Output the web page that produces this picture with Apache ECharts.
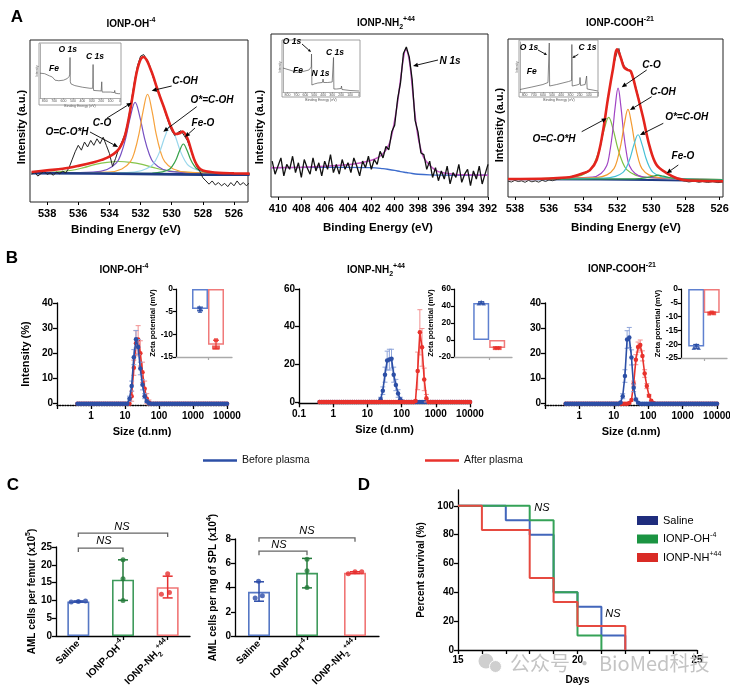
<!DOCTYPE html>
<html><head><meta charset="utf-8">
<script src="https://cdn.jsdelivr.net/npm/echarts@6/dist/echarts.min.js"></script>
<style>html,body{margin:0;padding:0;background:#fff}#c{width:730px;height:693px}</style>
</head><body><div id="c"></div>
<script>
const F = "'Liberation Sans', Arial, Helvetica, sans-serif";

// ---------------- Panel A : XPS O1s / N1s ----------------
const aTicksO = [526,528,530,532,534,536,538];
const aTicksN = [392,394,396,398,400,402,404,406,408,410];
const surveyTicks = [0,100,200,300,400,500,600,700,800];

const a1Raw = [[539,17],[538.8,18.5],[538.6,16],[538.4,17.5],[538.2,19],[538,17],[537.8,18],[537.6,16.5],[537.4,18.5],[537.2,17.5],[537,19],[536.8,18],[536.6,21],[536.4,26],[536.2,31],[536,35],[535.8,32],[535.6,37],[535.4,34],[535.2,38],[535,35],[534.8,39],[534.6,36],[534.4,40],[534.2,35],[534,30],[533.8,22],[533.6,27],[533.4,33],[533.2,37],[533,42],[532.8,50],[532.6,62],[532.4,74],[532.2,84],[532,90],[531.8,91],[531.6,88],[531.4,84],[531.2,77],[531,72],[530.8,67],[530.6,61],[530.4,55],[530.2,49],[530,44],[529.8,41],[529.6,43],[529.4,44],[529.2,41],[529,38],[528.8,33],[528.6,27],[528.4,22],[528.2,19],[528,15],[527.8,13],[527.6,11],[527.4,13],[527.2,10.5],[527,12],[526.8,10],[526.6,11.5],[526.4,9.5],[526.2,12],[526,10],[525.8,13],[525.6,10.5],[525.4,12],[525.2,10],[525,12]];
const a1Env = [[539,18.5],[538,19.5],[537,20.5],[536,22.3],[535,24.5],[534.5,26],[534,28],[533.5,31.5],[533.25,35],[533,41],[532.75,52],[532.5,66],[532.25,80],[532,88],[531.8,89.5],[531.6,87.5],[531.4,83],[531.2,78],[531,72],[530.75,65],[530.5,58.5],[530.25,51.5],[530,45.5],[529.75,42],[529.5,42.5],[529.3,43.5],[529,39.5],[528.75,32],[528.5,25],[528.25,21],[528,19.5],[527.5,18.5],[527,18],[526,17.7],[525,17.5]];
const a1Bg = [[539,17.8],[535,17.6],[531,17.2],[528,16.9],[525,16.8]];
const a1OCOstarH = [[539,17.7],[537.5,18.4],[536.4,19.6],[535.65,21.2],[534.9,23.2],[534.15,24.5],[533.4,25],[532.65,24.5],[531.9,23.2],[531.15,21.2],[530.4,19.6],[529.3,18.4],[527.5,17.8],[525,17.5]];
const a1CO = [[539,17.6],[535.05,18.4],[534.15,20.1],[533.55,24.1],[533.25,29.8],[532.95,39.5],[532.65,52.7],[532.35,61.5],[532.05,52.7],[531.75,39.5],[531.45,29.8],[531.15,24.1],[530.55,20.1],[529.65,18.4],[525,17.4]];
const a1COH = [[539,17.6],[534.05,18.5],[533.2,20.4],[532.65,24.9],[532.38,31.2],[532.1,42],[531.825,56.7],[531.55,66.5],[531.275,56.7],[531,42],[530.72,31.2],[530.45,24.9],[529.9,20.4],[529.05,18.5],[525,17.4]];
const a1OstarCOH = [[539,17.6],[532.9,18.1],[531.96,19.3],[531.34,22],[531.03,25.8],[530.72,32.3],[530.41,41.1],[530.1,47],[529.79,41.1],[529.48,32.3],[529.17,25.8],[528.86,22],[528.24,19.3],[527.3,18.1],[525,17.4]];
const a1FeO = [[539,17.6],[531.25,17.9],[530.6,18.6],[530.15,20.2],[529.93,22.6],[529.7,26.6],[529.475,32.1],[529.25,35.8],[529.025,32.1],[528.8,26.6],[528.57,22.6],[528.35,20.2],[527.9,18.6],[527.25,17.9],[525,17.4]];
const a1Survey = [[850,46],[800,45],[750,41],[720,39],[710,36],[690,33],[650,32],[600,33],[560,36],[540,40],[534,44],[531,75],[528,30],[520,26],[480,23],[400,20],[320,18],[290,18],[286,62],[283,20],[280,14],[260,13],[200,13],[194,30],[190,11],[150,11],[100,11],[60,10],[56,14],[52,9],[20,8],[0,8]];

const a2Raw = [[410.5,22],[410.25,14],[410,19],[409.75,24],[409.5,13],[409.25,20],[409,17],[408.75,25],[408.5,15],[408.25,21],[408,12],[407.75,23],[407.5,18],[407.25,14],[407,24],[406.75,16],[406.5,21],[406.25,13],[406,22],[405.75,17],[405.5,26],[405.25,15],[405,20],[404.75,14],[404.5,23],[404.25,17],[404,21],[403.75,15],[403.5,24],[403.25,19],[403,13],[402.75,22],[402.5,18],[402.25,25],[402,17],[401.75,23],[401.5,20],[401.25,28],[401,24],[400.75,31],[400.5,29],[400.25,40],[400,44],[399.75,60],[399.5,70],[399.25,88],[399,92],[398.75,86],[398.5,72],[398.25,47],[398,40],[397.75,27],[397.5,26],[397.25,17],[397,22],[396.75,12],[396.5,18],[396.25,10],[396,16],[395.75,11],[395.5,19],[395.25,8],[395,15],[394.75,12],[394.5,20],[394.25,9],[394,14],[393.75,17],[393.5,7],[393.25,16],[393,11],[392.75,19],[392.5,8],[392.25,14],[392,20]];
const a2Env = [[410.6,18],[408,18.3],[406,18.8],[404,19.8],[403,20.8],[402,22.5],[401.5,24],[401,26.5],[400.5,32],[400.25,38],[400,47],[399.75,58],[399.5,72],[399.25,85],[399.05,90.5],[398.75,84],[398.5,68],[398.25,50],[398,37],[397.75,29],[397.5,24],[397,19.5],[396.5,16.5],[396,15],[395,14],[394,13.6],[392,13.4]];
const a2Bg = [[410.6,18],[404,18.2],[402,18],[401,17.4],[400.5,16.9],[400,16.3],[399.5,15.6],[399,15],[398.5,14.4],[398,14],[397,13.6],[396,13.4],[392,13.3]];
const a2Survey = [[850,48],[740,42],[700,39],[650,40],[560,44],[540,46],[534,50],[531,76],[527,14],[500,16],[460,18],[410,19],[402,26],[399,27],[395,19],[350,19],[300,20],[288,22],[285,69],[281,6],[250,6],[200,7],[196,12],[190,5],[100,3],[0,2]];

const a3Raw = [[538.4,10],[538.2,9.5],[538,10.5],[537.8,9.8],[537.6,10.2],[537.4,9.3],[537.2,10.5],[537,9.6],[536.8,10.2],[536.6,9.4],[536.4,10.6],[536.2,9.8],[536,10.8],[535.8,10.3],[535.5,11.2],[535.2,11.8],[535,12.3],[534.8,12.6],[534.6,13.2],[534.4,13.6],[534.2,14.3],[534,15.2],[533.8,16],[533.6,17.3],[533.4,19.5],[533.2,23.5],[533,31],[532.8,43],[532.6,58],[532.4,72],[532.2,84],[532,92],[531.9,94],[531.8,89],[531.6,83],[531.4,81],[531.2,79],[531,73],[530.8,65],[530.6,56],[530.4,46],[530.2,36],[530,28],[529.8,22],[529.6,19],[529.4,17],[529.2,15.5],[529,14.5],[528.8,13],[528.6,12],[528.4,11],[528.2,10.5],[528,10],[527.8,9.5],[527.5,10],[527.2,9.3],[527,9.8],[526.7,9.2],[526.4,9.7],[526.1,9.1],[525.8,9.5]];
const a3Env = [[538.4,11.4],[536,11.7],[535,12.3],[534.6,13],[534,15],[533.6,17],[533.2,23.6],[532.85,40.6],[532.55,61.8],[532.25,80.9],[532,93.5],[531.8,88.5],[531.6,82],[531.4,80.5],[531.2,79.5],[530.9,68.2],[530.5,51.1],[530.1,32],[529.7,20.4],[529.1,15.1],[528.5,11.9],[527.8,10.4],[525.8,10]];
const a3Bg = [[538.4,11.3],[533,11.1],[530,10.8],[528,10.5],[525.8,10.4]];
const a3OCOstarH = [[538.4,11.4],[534.9,12.2],[534.1,13.7],[533.56,17.3],[533.3,22.3],[533.03,30.9],[532.765,42.6],[532.5,50.4],[532.235,42.6],[531.97,30.9],[531.7,22.3],[531.44,17.3],[530.9,13.7],[530.1,12.2],[525.8,11]];
const a3CO = [[538.4,11.4],[533.45,12.6],[532.95,14.9],[532.61,20],[532.45,27.5],[532.28,40.2],[532.115,57.4],[531.95,68.9],[531.785,57.4],[531.62,40.2],[531.45,27.5],[531.29,20],[530.95,14.9],[530.45,12.6],[525.8,11]];
const a3COH = [[538.4,11.4],[533.22,12.3],[532.6,14],[532.19,18],[531.99,23.7],[531.78,33.4],[531.575,46.6],[531.37,55.4],[531.165,46.6],[530.96,33.4],[530.75,23.7],[530.55,18],[530.14,14],[529.52,12.3],[525.8,11]];
const a3OstarCOH = [[538.4,11.4],[532.78,12],[532.1,13.1],[531.66,15.6],[531.44,19.2],[531.22,25.4],[531,33.8],[530.78,39.4],[530.56,33.8],[530.34,25.4],[530.12,19.2],[529.9,15.6],[529.46,13.1],[528.78,12],[525.8,11]];
const a3FeO = [[538.4,11.3],[531,11.5],[530.3,12.2],[529.9,13.2],[529.6,13.8],[529.3,13.2],[528.9,12.2],[528.2,11.3],[525.8,10.8]];
const a3Survey = [[850,5],[720,10],[600,15],[545,19],[534,22],[531,98],[527,12],[450,15],[320,21],[288,23],[285,95],[281,12],[230,14],[200,16],[196,29],[190,13],[140,15],[128,18],[124,32],[118,6],[100,4],[0,2]];

// ---------------- Panel B : DLS ----------------
const sizes = [
 0.4,0.4632,0.5365,0.6213,0.7195,0.8332,0.9649,1.117,1.294,1.499,
 1.736,2.01,2.328,2.696,3.122,3.615,4.187,4.849,5.615,6.503,
 7.531,8.721,10.1,11.7,13.54,15.69,18.17,21.04,24.36,28.21,
 32.67,37.84,43.82,50.75,58.77,68.06,78.82,91.28,105.7,122.4,
 141.8,164.2,190.1,220.2,255,295.3,342,396.1,458.7,531.2,
 615.1,712.4,825,955.4,1106,1281,1484,1718,1990,2305,
 2669,3091,3580,4145,4801,5560,6439,7456,8635,10000];
const b1Before = [
 0,0,0,0,0,0,0,0,0,0, 0,0,0,0,0,0,0,0,0,0,
 0,0,0,0,2,7,18.5,25.6,22.5,14, 7.5,3,1,0.2,0,0,0,0,0,0,
 0,0,0,0,0,0,0,0,0,0, 0,0,0,0,0,0,0,0,0,0, 0,0,0,0,0,0,0,0,0,0];
const b1BeforeSD = [
 0,0,0,0,0,0,0,0,0,0, 0,0,0,0,0,0,0,0,0,0,
 0,0,0,0,1,2,3,3.5,3,2.5, 2,1,0.5,0,0,0,0,0,0,0,
 0,0,0,0,0,0,0,0,0,0, 0,0,0,0,0,0,0,0,0,0, 0,0,0,0,0,0,0,0,0,0];
const b1After = [
 0,0,0,0,0,0,0,0,0,0, 0,0,0,0,0,0,0,0,0,0,
 0,0,0,0,0,3,14.3,24,25.5,20, 12.5,6,2,0.5,0,0,0,0,0,0,
 0,0,0,0,0,0,0,0,0,0, 0,0,0,0,0,0,0,0,0,0, 0,0,0,0,0,0,0,0,0,0];
const b1AfterSD = [
 0,0,0,0,0,0,0,0,0,0, 0,0,0,0,0,0,0,0,0,0,
 0,0,0,0,0,2,3,5,5.5,5, 4,3,2,1,0,0,0,0,0,0,
 0,0,0,0,0,0,0,0,0,0, 0,0,0,0,0,0,0,0,0,0, 0,0,0,0,0,0,0,0,0,0];
const b2Before = [
 0,0,0,0,0,0,0,0,0,0, 0,0,0,0,0,0,0,0,0,0,
 0,0,0,0,0,0,0,0,1.5,6, 14.5,22,22.5,23,14.5,9,4.5,1.5,0.3,0,
 0,0,0,0,0,0,0,0,0,0, 0,0,0,0,0,0,0,0,0,0, 0,0,0,0,0,0,0,0,0,0];
const b2BeforeSD = [
 0,0,0,0,0,0,0,0,0,0, 0,0,0,0,0,0,0,0,0,0,
 0,0,0,0,0,0,0,0,1,2, 4,5,5.5,5,4,3,2,1,0,0,
 0,0,0,0,0,0,0,0,0,0, 0,0,0,0,0,0,0,0,0,0, 0,0,0,0,0,0,0,0,0,0];
const b2After = [
 0,0,0,0,0,0,0,0,0,0, 0,0,0,0,0,0,0,0,0,0,
 0,0,0,0,0,0,0,0,0,0, 0,0,0,0,0,0,0,0,0,0,
 0,0,0,0,0.5,16.5,37,29,12,2, 0,0,0,0,0,0,0,0,0,0, 0,0,0,0,0,0,0,0,0,0];
const b2AfterSD = [
 0,0,0,0,0,0,0,0,0,0, 0,0,0,0,0,0,0,0,0,0,
 0,0,0,0,0,0,0,0,0,0, 0,0,0,0,0,0,0,0,0,0,
 0,0,0,0,0,10,12,10,6,2, 0,0,0,0,0,0,0,0,0,0, 0,0,0,0,0,0,0,0,0,0];
const b3Before = [
 0,0,0,0,0,0,0,0,0,0, 0,0,0,0,0,0,0,0,0,0,
 0,0,0,0,0,0.5,3,11,25.5,26.3, 18.4,6.3,1.7,0.4,0,0,0,0,0,0,
 0,0,0,0,0,0,0,0,0,0, 0,0,0,0,0,0,0,0,0,0, 0,0,0,0,0,0,0,0,0,0];
const b3BeforeSD = [
 0,0,0,0,0,0,0,0,0,0, 0,0,0,0,0,0,0,0,0,0,
 0,0,0,0,0,0,1,2.5,3.5,4, 3,1.5,0.5,0,0,0,0,0,0,0,
 0,0,0,0,0,0,0,0,0,0, 0,0,0,0,0,0,0,0,0,0, 0,0,0,0,0,0,0,0,0,0];
const b3After = [
 0,0,0,0,0,0,0,0,0,0, 0,0,0,0,0,0,0,0,0,0,
 0,0,0,0,0,0,0,0,0,0.3, 1.5,8,17.5,22.5,23.3,19,12,7,3.2,1.2,
 0.3,0,0,0,0,0,0,0,0,0, 0,0,0,0,0,0,0,0,0,0, 0,0,0,0,0,0,0,0,0,0];
const b3AfterSD = [
 0,0,0,0,0,0,0,0,0,0, 0,0,0,0,0,0,0,0,0,0,
 0,0,0,0,0,0,0,0,0,0, 0,1,2,2,2,2,1.5,1,0.5,0,
 0,0,0,0,0,0,0,0,0,0, 0,0,0,0,0,0,0,0,0,0, 0,0,0,0,0,0,0,0,0,0];

// zeta potential insets: [x slot, value]
const z1Bars = [[1.5,-4.4],[2.5,-12.3]];
const z1BluePts = [[1.45,-4.0],[1.5,-4.8],[1.55,-4.3]];
const z1RedPts = [[2.5,-11.3],[2.38,-12.9],[2.62,-12.9]];
const z1Err = [[1.5,-4.8,-4.0],[2.5,-13.2,-11.3]];
const z2Bars = [[1.7,43.5],[2.7,-9.5]];
const z2BluePts = [[1.55,43.2],[1.7,44.8],[1.85,43.2]];
const z2RedPts = [[2.55,-9.5],[2.7,-9.5],[2.85,-9.5]];
const z2Err = [[1.7,42.5,45],[2.7,-9.8,-9.2]];
const z3Bars = [[0.95,-20.8],[1.92,-8.7]];
const z3BluePts = [[0.8,-21.3],[0.95,-20.3],[1.1,-21.3]];
const z3RedPts = [[1.77,-8.9],[1.92,-8.5],[2.07,-8.8]];
const z3Err = [[0.95,-21.5,-20.1],[1.92,-9.0,-8.4]];

// ---------------- Panel C ----------------
const c1Means = [9.7, 15.8, 13.7];
const c1Err = [[9.55,9.85],[10.0,21.4],[10.7,16.8]];
const c1Pts = [[[0.84,9.55],[1.0,9.7],[1.16,9.8]], [[2.0,10.0],[2.0,16.1],[2.0,21.4]], [[2.86,11.7],[3.04,12.2],[3.0,17.5]]];
const c1NS = [[1,2,24.7],[1,3,28.9]];
const c2Means = [3.64, 5.21, 5.21];
const c2Err = [[2.87,4.47],[3.97,6.4],[5.16,5.3]];
const c2Pts = [[[0.92,3.14],[0.99,4.52],[1.07,3.31]], [[2.0,4.0],[2.0,5.38],[2.0,6.32]], [[2.86,5.13],[3.0,5.3],[3.14,5.3]]];
const c2NS = [[1,2,7.0],[1,3,8.1]];

// ---------------- Panel D ----------------
const dSaline = [[15,100],[17,90],[18,80],[19,40],[20,30],[21,10],[22,0]];
const dOH = [[15,100],[18,90],[19,40],[20,10],[21,0]];
const dNH = [[15,100],[16,83.3],[18,50],[19,33.3],[20,16.7],[22,0]];
const dYTicks = [0,20,40,60,80,100];

// =================== build option ===================
const grids=[], xAxis=[], yAxis=[], series=[], G=[];
function grid(box, xa, ya){ const i=grids.length; grids.push(Object.assign({outerBoundsMode:'none', containLabel:false}, box)); xa.gridIndex=i; ya.gridIndex=i; xAxis.push(xa); yAxis.push(ya); return i; }
function ln(gi, data, color, width, extra){ series.push(Object.assign({type:'line', xAxisIndex:gi, yAxisIndex:gi, data, symbol:'none', showSymbol:false, lineStyle:{color, width}, itemStyle:{color}, silent:true, z:3}, extra||{})); }
function errSeries(gi, data, color, cap, w, z){
  return {type:'custom', xAxisIndex:gi, yAxisIndex:gi, clip:false, silent:true, z:z||4, data,
    renderItem(p, api){ const a=api.coord([api.value(0),api.value(1)]), b=api.coord([api.value(0),api.value(2)]);
      const st={stroke:color, lineWidth:w};
      return {type:'group', children:[
        {type:'line', shape:{x1:a[0],y1:a[1],x2:b[0],y2:b[1]}, style:st},
        {type:'line', shape:{x1:a[0]-cap,y1:a[1],x2:a[0]+cap,y2:a[1]}, style:st},
        {type:'line', shape:{x1:b[0]-cap,y1:b[1],x2:b[0]+cap,y2:b[1]}, style:st}]}; }};
}
function bracketSeries(gi, data){
  return {type:'custom', xAxisIndex:gi, yAxisIndex:gi, clip:false, silent:true, z:5, data,
    renderItem(p, api){ const a=api.coord([api.value(0),api.value(2)]), b=api.coord([api.value(1),api.value(2)]);
      return {type:'polyline', shape:{points:[[a[0],a[1]+4],[a[0],a[1]],[b[0],b[1]],[b[0],b[1]+4]]}, style:{stroke:'#666', lineWidth:1.3, fill:null}}; }};
}
const blk = {color:'#000', width:1.3};
const lblB = (fs) => ({fontSize:fs, fontWeight:'bold', fontFamily:F, color:'#000'});
const richLbl = (fs) => ({b:{fontSize:fs, fontWeight:'bold', fontFamily:F, color:'#000', lineHeight:fs+5},
  sup:{fontSize:Math.round(fs*0.65), fontWeight:'bold', fontFamily:F, color:'#000', verticalAlign:'top'},
  sub:{fontSize:Math.round(fs*0.65), fontWeight:'bold', fontFamily:F, color:'#000', verticalAlign:'bottom'}});

// ---- A axes helpers
function aX(min,max,ticks){ return {type:'value', min, max, inverse:true, axisLine:{show:false, onZero:false}, axisTick:{show:true, length:3, customValues:ticks, lineStyle:{color:'#000'}}, axisLabel:Object.assign({customValues:ticks, margin:6}, lblB(11)), splitLine:{show:false}}; }
function aY(){ return {type:'value', min:0, max:100, show:false, splitLine:{show:false}}; }
function insX(){ return {type:'value', min:0, max:850, inverse:true, axisLine:{onZero:false, lineStyle:{color:'#777', width:0.6}}, axisTick:{length:1.5, customValues:surveyTicks, lineStyle:{color:'#777', width:0.5}}, axisLabel:{customValues:surveyTicks, fontSize:3.5, color:'#555', margin:1.5, fontFamily:F}, splitLine:{show:false}, name:'Binding Energy (eV)', nameLocation:'middle', nameGap:6, nameTextStyle:{fontSize:3.5, color:'#555', fontFamily:F}}; }
function insY(){ return {type:'value', min:0, max:100, axisLine:{show:true, onZero:false, lineStyle:{color:'#777', width:0.6}}, axisTick:{show:false}, axisLabel:{show:false}, splitLine:{show:false}, name:'Intensity', nameLocation:'middle', nameRotate:90, nameGap:1.5, nameTextStyle:{fontSize:3, color:'#555', fontFamily:F}}; }
const boxGrid = (l,t,w,h) => ({left:l, top:t, width:w, height:h, show:true, borderColor:'#222', borderWidth:1, backgroundColor:'rgba(0,0,0,0)'});

// A1
let gi = grid(boxGrid(30,40,218,162), aX(525.1,539.1,aTicksO), aY());
ln(gi, a1OCOstarH, '#86c54b', 1.2, {smooth:0.4});
ln(gi, a1CO, '#7650c2', 1.2, {smooth:0.4});
ln(gi, a1COH, '#f6a23c', 1.2, {smooth:0.4});
ln(gi, a1OstarCOH, '#9ad7ec', 1.2, {smooth:0.4});
ln(gi, a1FeO, '#36a24a', 1.2, {smooth:0.4});
ln(gi, a1Bg, '#1f3b85', 2.6, {z:3});
ln(gi, a1Raw, '#222', 1, {z:4});
ln(gi, a1Env, '#e4241d', 2.6, {smooth:0.35, z:5});
gi = grid({left:40, top:44, width:80, height:54}, insX(), insY());
ln(gi, a1Survey, '#555', 0.7);

// A2
gi = grid(boxGrid(271,34,217,163), aX(392,410.6,aTicksN), aY());
ln(gi, a2Bg, '#3d6ccc', 1.4, {smooth:0.4});
ln(gi, a2Env, '#c455c4', 1.5, {smooth:0.35});
ln(gi, a2Raw, '#111', 1.3, {z:4});
gi = grid({left:283, top:42, width:76, height:50}, insX(), insY());
ln(gi, a2Survey, '#555', 0.7);

// A3
gi = grid(boxGrid(508,39,215,158), aX(525.8,538.4,aTicksO), aY());
ln(gi, a3Bg, '#1f3b85', 2, {z:3});
ln(gi, a3OCOstarH, '#7cc043', 1.2, {smooth:0.4});
ln(gi, a3CO, '#a044c4', 1.2, {smooth:0.4});
ln(gi, a3COH, '#f39a2f', 1.2, {smooth:0.4});
ln(gi, a3OstarCOH, '#45c0d6', 1.2, {smooth:0.4});
ln(gi, a3FeO, '#2e9d48', 1.2, {smooth:0.4});
ln(gi, a3Raw, '#333', 1, {z:4});
ln(gi, a3Env, '#e4241d', 2.6, {smooth:0.35, z:5});
gi = grid({left:520, top:42, width:78, height:50}, insX(), insY());
ln(gi, a3Survey, '#555', 0.7);

// ---- B helpers
function dlsX(showTenth, dotted){ return {type:'log', logBase:10, min:0.1, max:10000,
  axisLine:{onZero:false, lineStyle:{color:'#000', width:1.3, type: dotted?'dotted':'solid'}},
  axisTick:{length:4, lineStyle:{color:'#000', width:1.3}},
  axisLabel:Object.assign({margin:6, formatter:v => v<0.5 ? (showTenth?'0.1':'') : String(Math.round(v))}, lblB(10)),
  minorTick:{show:false}, splitLine:{show:false},
  name:'Size (d.nm)', nameLocation:'middle', nameGap:21, nameTextStyle:lblB(11)}; }
function dlsY(min,max,ticks,name){ return {type:'value', min, max,
  axisLine:{show:true, onZero:false, lineStyle:blk}, axisTick:{show:true, length:4, customValues:ticks, lineStyle:blk},
  axisLabel:Object.assign({customValues:ticks, margin:4}, lblB(10)), splitLine:{show:false},
  name, nameLocation:'middle', nameRotate:90, nameGap:26, nameTextStyle:lblB(11)}; }
function zX(max, tick){ return {type:'value', min:0, max, axisLine:{onZero:false, lineStyle:{color:'#aaa', width:1.3}}, axisTick:{length:3, customValues:[tick], lineStyle:{color:'#aaa', width:1.2}}, axisLabel:{show:false}, splitLine:{show:false}}; }
function zY(min,max,interval,gap){ return {type:'value', min, max, interval, axisLine:{show:true, onZero:false, lineStyle:{color:'#000', width:1.2}}, axisTick:{length:3, lineStyle:{color:'#000', width:1.2}}, axisLabel:Object.assign({margin:3}, lblB(8.5)), splitLine:{show:false},
  name:'Zeta potential (mV)', nameLocation:'middle', nameRotate:90, nameGap:gap, nameTextStyle:lblB(7.5)}; }
const BLUE='#2c4fa6', RED='#e8322c', BLUE_E='#8fa5da', RED_E='#f29090';
function dls(gi, vals, sd, color, ecolor, name, z){
  series.push({type:'line', name, xAxisIndex:gi, yAxisIndex:gi, data:sizes.map((s,i)=>[s, vals[i]]), symbol:'circle', symbolSize:4.5, showSymbol:true, lineStyle:{color, width:1.6}, itemStyle:{color}, silent:true, z});
  const e=[]; sizes.forEach((s,i)=>{ if(sd[i]>0) e.push([s, vals[i]-sd[i], vals[i]+sd[i]]); });
  series.push(errSeries(gi, e, ecolor, 2.5, 1, z-1));
}
function zeta(gi, bars, bpts, rpts, errs){
  series.push({type:'bar', xAxisIndex:gi, yAxisIndex:gi, barWidth:16, silent:true, z:2,
    data:[{value:bars[0], itemStyle:{color:'rgba(255,255,255,0)', borderColor:'#5f80cf', borderWidth:1.5}},
          {value:bars[1], itemStyle:{color:'rgba(255,255,255,0)', borderColor:'#f07a7a', borderWidth:1.5}}]});
  series.push(errSeries(gi, [errs[0]], BLUE, 3, 1.2, 3));
  series.push(errSeries(gi, [errs[1]], RED, 3, 1.2, 3));
  series.push({type:'scatter', xAxisIndex:gi, yAxisIndex:gi, data:bpts, symbol:'triangle', symbolSize:4.5, itemStyle:{color:BLUE}, silent:true, z:4});
  series.push({type:'scatter', xAxisIndex:gi, yAxisIndex:gi, data:rpts, symbol:'rect', symbolSize:4, itemStyle:{color:RED}, silent:true, z:4});
}
// B1
gi = grid({left:57, top:303, width:170, height:102}, dlsX(false,true), dlsY(-0.5,40,[0,10,20,30,40],'Intensity (%)'));
dls(gi, b1After, b1AfterSD, RED, RED_E, 'After plasma', 4);
dls(gi, b1Before, b1BeforeSD, BLUE, BLUE_E, 'Before plasma', 6);
gi = grid({left:176, top:289, width:56, height:68}, zX(3.5,2), zY(-15,0,5,9));
zeta(gi, z1Bars, z1BluePts, z1RedPts, z1Err);
// B2
gi = grid({left:299, top:289, width:171, height:114.3}, dlsX(true,false), dlsY(-0.7,60,[0,20,40,60],''));
dls(gi, b2Before, b2BeforeSD, BLUE, BLUE_E, 'Before plasma', 4);
dls(gi, b2After, b2AfterSD, RED, RED_E, 'After plasma', 6);
gi = grid({left:454, top:289, width:58, height:68}, zX(3.625,2.2), zY(-20,60,20,7));
zeta(gi, z2Bars, z2BluePts, z2RedPts, z2Err);
// B3
gi = grid({left:545, top:303, width:172, height:102}, dlsX(false,true), dlsY(-0.5,40,[0,10,20,30,40],''));
dls(gi, b3After, b3AfterSD, RED, RED_E, 'After plasma', 4);
dls(gi, b3Before, b3BeforeSD, BLUE, BLUE_E, 'Before plasma', 6);
gi = grid({left:681, top:289, width:46, height:69}, zX(2.875,1.44), zY(-25,0,5,18));
zeta(gi, z3Bars, z3BluePts, z3RedPts, z3Err);

// ---- C
const cLabel = ['{b|Saline}', '{b|IONP-OH}{sup|-4}', '{b|IONP-NH}{sub|2}{sup|+44}'];
const cBorder = ['#5577c4','#3f9a5c','#f07575'];
const cDark = ['#2b4ba8','#237a3a','#e63030'];
function cX(){ return {type:'value', min:0.5, max:3.5, axisLine:{onZero:false, lineStyle:blk}, axisTick:{length:4, customValues:[1,2,3], lineStyle:blk},
  axisLabel:{customValues:[1,2,3], rotate:45, margin:6, formatter:v => cLabel[Math.round(v)-1], rich:richLbl(10)}, splitLine:{show:false}}; }
function cY(max, interval, name){ return {type:'value', min:0, max, interval, axisLine:{show:true, onZero:false, lineStyle:blk}, axisTick:{length:4, lineStyle:blk},
  axisLabel:Object.assign({margin:4}, lblB(10)), splitLine:{show:false}, name, nameLocation:'middle', nameRotate:90, nameGap:14.5,
  nameTextStyle:Object.assign({rich:richLbl(10)}, lblB(10))}; }
function cPanel(gi, means, errs, pts, ns){
  series.push({type:'bar', xAxisIndex:gi, yAxisIndex:gi, barWidth:22, silent:true, z:2,
    data:means.map((m,i)=>({value:[i+1,m], itemStyle:{color:'rgba(255,255,255,0)', borderColor:cBorder[i], borderWidth:1.6}}))});
  errs.forEach((e,i)=>series.push(errSeries(gi, [[i+1,e[0],e[1]]], cDark[i], 5, 1.5, 3)));
  pts.forEach((p,i)=>series.push({type:'scatter', xAxisIndex:gi, yAxisIndex:gi, data:p, symbol:'circle', symbolSize:5, itemStyle:{color:cDark[i]}, silent:true, z:4}));
  series.push(bracketSeries(gi, ns));
}
gi = grid({left:56, top:547, width:134, height:89}, cX(), cY(25,5,'{b|AML cells per femur (x10}{sup|5}{b|)}'));
cPanel(gi, c1Means, c1Err, c1Pts, c1NS);
gi = grid({left:235, top:539, width:144, height:97}, cX(), cY(8,2,'{b|AML cells per mg of SPL (x10}{sup|4}{b|)}'));
cPanel(gi, c2Means, c2Err, c2Pts, c2NS);

// ---- D
gi = grid({left:458, top:490, width:239, height:160},
  {type:'value', min:15, max:25, interval:1, axisLine:{onZero:false, lineStyle:blk}, axisTick:{length:4, lineStyle:blk},
   axisLabel:Object.assign({margin:5, formatter:v => (v===15||v===20||v===25)? String(v) : ''}, lblB(10)), splitLine:{show:false},
   name:'Days', nameLocation:'middle', nameGap:25, nameTextStyle:lblB(10)},
  {type:'value', min:0, max:111, axisLine:{show:true, onZero:false, lineStyle:blk}, axisTick:{length:4, customValues:dYTicks, lineStyle:blk},
   axisLabel:Object.assign({customValues:dYTicks, margin:4}, lblB(10)), splitLine:{show:false},
   name:'Percent survival (%)', nameLocation:'middle', nameRotate:90, nameGap:32, nameTextStyle:lblB(10)});
ln(gi, dSaline, '#4266bb', 2, {step:'end', name:'Saline', itemStyle:{color:'#1f2d7d'}});
ln(gi, dOH, '#35a257', 2, {step:'end', name:'IONP-OH-4', itemStyle:{color:'#1b9442'}});
ln(gi, dNH, '#e64a40', 2, {step:'end', name:'IONP-NH+44', itemStyle:{color:'#d92b25'}});

// =================== graphics (text) ===================
function T(x,y,text,o){ o=o||{}; const st={text, fill:o.color||'#000', font:o.font||('bold 10px '+F), align:o.align||'center', verticalAlign:'middle'}; if(o.rich) st.rich=o.rich; G.push({type:'text', x, y, rotation:o.rot||0, z:100, silent:true, style:st}); }
function R(fs){ return {b:{fontSize:fs, fontWeight:'bold', fontFamily:F, lineHeight:fs+5}, sup:{fontSize:Math.round(fs*0.65), fontWeight:'bold', fontFamily:F, verticalAlign:'top'}, sub:{fontSize:Math.round(fs*0.65), fontWeight:'bold', fontFamily:F, verticalAlign:'bottom'}}; }
function arrow(x1,y1,x2,y2,head){ head=head||5; const a=Math.atan2(y2-y1,x2-x1), bx=x2-head*Math.cos(a), by=y2-head*Math.sin(a), w=head*0.45, px=-Math.sin(a)*w, py=Math.cos(a)*w;
  G.push({type:'line', z:100, silent:true, shape:{x1,y1,x2:bx,y2:by}, style:{stroke:'#000', lineWidth:0.9}});
  G.push({type:'polygon', z:100, silent:true, shape:{points:[[x2,y2],[bx+px,by+py],[bx-px,by-py]]}, style:{fill:'#000'}}); }
const BI = 'italic bold 10px '+F, BI8 = 'italic bold 8.5px '+F;
T(17,17,'A',{font:'bold 17px '+F}); T(12,258,'B',{font:'bold 17px '+F}); T(13,485,'C',{font:'bold 17px '+F}); T(364,485,'D',{font:'bold 17px '+F});
T(131,24,'{b|IONP-OH}{sup|-4}',{rich:R(10)});
T(386,23,'{b|IONP-NH}{sub|2}{sup|+44}',{rich:R(10)});
T(620,23,'{b|IONP-COOH}{sup|-21}',{rich:R(10)});
[[126,230],[378,228],[626,228]].forEach(p=>T(p[0],p[1],'Binding Energy (eV)',{font:'bold 11.5px '+F}));
[[22,127],[260,127],[500,125]].forEach(p=>T(p[0],p[1],'Intensity (a.u.)',{font:'bold 11px '+F, rot:Math.PI/2}));
[[39,43,82,62],[282,40,78,57],[519,40,79,57]].forEach(r=>G.push({type:'rect', z:90, silent:true, shape:{x:r[0],y:r[1],width:r[2],height:r[3]}, style:{fill:null, stroke:'#888', lineWidth:0.8}}));
T(185,81,'C-OH',{font:BI}); arrow(171.7,86,151.7,90.7);
T(212,100,'O*=C-OH',{font:BI}); arrow(196.7,106.7,163.3,131.7);
T(203,123,'Fe-O',{font:BI}); arrow(195,128,185,137);
T(102,123,'C-O',{font:BI}); arrow(107,118,131.7,102.7);
T(67,132,'O=C-O*H',{font:BI}); arrow(90,132,118,147);
T(67.7,50,'O 1s',{font:BI8}); T(95,57,'C 1s',{font:BI8}); T(54,68.5,'Fe',{font:BI8});
T(450,61,'N 1s',{font:BI}); arrow(438,60,413,66);
T(292,42,'O 1s',{font:BI8}); arrow(302,44,311,52,3);
T(335,53,'C 1s',{font:BI8}); T(298,70.5,'Fe',{font:BI8}); T(320.5,73.5,'N 1s',{font:BI8});
T(651.5,65,'C-O',{font:BI}); arrow(646.7,70,621.7,87.3);
T(663,92.5,'C-OH',{font:BI}); arrow(651.7,96.7,630,110);
T(686.7,117.5,'O*=C-OH',{font:BI}); arrow(663.3,123.3,640,135);
T(554,139,'O=C-O*H',{font:BI}); arrow(581.7,131.7,606.7,118.3);
T(683,156.7,'Fe-O',{font:BI}); arrow(678.3,165,666.7,173.3);
T(529,48,'O 1s',{font:BI8}); arrow(538,50,547,55,3);
T(587.5,48,'C 1s',{font:BI8}); arrow(578.3,54.3,572.3,58,3);
T(531.7,72,'Fe',{font:BI8});
T(124,270,'{b|IONP-OH}{sup|-4}',{rich:R(10)});
T(376,270,'{b|IONP-NH}{sub|2}{sup|+44}',{rich:R(10)});
T(622,269,'{b|IONP-COOH}{sup|-21}',{rich:R(10)});
const NSF = 'italic 11px '+F;
T(104,541,'NS',{font:NSF}); T(122,527,'NS',{font:NSF});
T(279,545,'NS',{font:NSF}); T(307,531,'NS',{font:NSF});
T(542,508,'NS',{font:NSF}); T(613,614,'NS',{font:NSF});
G.push({type:'circle', z:100, silent:true, shape:{cx:486,cy:661,r:7.5}, style:{fill:'#cfcfcf'}});
G.push({type:'circle', z:100, silent:true, shape:{cx:495.5,cy:666.5,r:6}, style:{fill:'#cfcfcf', stroke:'#fff', lineWidth:1}});
T(510,663,'公众号 · BioMed科技',{font:"20px 'Noto Sans CJK SC', sans-serif", color:'rgba(190,190,190,0.9)', align:'left'});

const legendRich = {n:{fontSize:11, fontFamily:F, color:'#000', lineHeight:14}, sup:{fontSize:7, fontFamily:F, color:'#000', verticalAlign:'top'}};
const legendNames = {'Saline':'{n|Saline}', 'IONP-OH-4':'{n|IONP-OH}{sup|-4}', 'IONP-NH+44':'{n|IONP-NH}{sup|+44}'};

const option = {
  animation:false, backgroundColor:'#fff', textStyle:{fontFamily:F},
  grid:grids, xAxis, yAxis, series,
  legend:[
    {data:['Before plasma'], left:198, top:450, icon:'rect', itemWidth:34, itemHeight:2.5, selectedMode:false, textStyle:{fontSize:10.5, fontFamily:F, color:'#111'}},
    {data:['After plasma'], left:420, top:450, icon:'rect', itemWidth:34, itemHeight:2.5, selectedMode:false, textStyle:{fontSize:10.5, fontFamily:F, color:'#111'}},
    {data:['Saline','IONP-OH-4','IONP-NH+44'], left:632, top:510, orient:'vertical', icon:'rect', itemWidth:21, itemHeight:9, itemGap:6, selectedMode:false,
     formatter:n => legendNames[n], textStyle:{fontSize:11, fontFamily:F, color:'#000', rich:legendRich}}
  ],
  graphic:{elements:G}
};
const chart = echarts.init(document.getElementById('c'), null, {renderer:'canvas'});
chart.setOption(option);
</script></body></html>
